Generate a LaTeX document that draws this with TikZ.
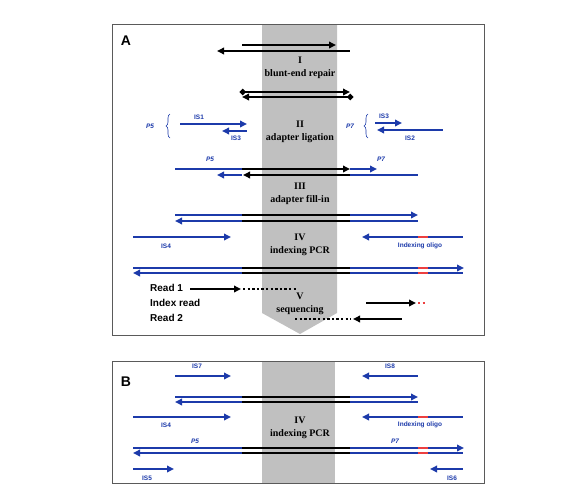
\documentclass[tikz,border=0pt]{standalone}
\usepackage{fontspec}
\setmainfont{Liberation Serif}
\setsansfont{Liberation Sans}
\usetikzlibrary{arrows.meta,decorations.pathreplacing}

\definecolor{dnablue}{RGB}{28,58,170}
\definecolor{bandgray}{RGB}{192,192,192}
\definecolor{oligored}{RGB}{236,64,64}
\definecolor{framegray}{RGB}{90,90,90}

\tikzset{
  bl/.style={draw=dnablue, line width=2.6pt},
  blk/.style={draw=black, line width=2.6pt},
  oligo/.style={draw=oligored, line width=2.8pt},
  dots/.style={draw=black, line width=2.4pt, dash pattern=on 2.4pt off 2.2pt},
  tipR/.style={-{Triangle[length=7pt,width=6.5pt]}},
  tipL/.style={{Triangle[length=7pt,width=6.5pt]}-},
  steplabel/.style={font=\bfseries\fontsize{10}{13}\selectfont, align=center, inner sep=0pt},
  islabel/.style={font=\sffamily\bfseries\fontsize{6.5}{7}\selectfont, text=dnablue, inner sep=0pt},
  plabel/.style={font=\sffamily\bfseries\itshape\fontsize{6.5}{7}\selectfont, text=dnablue, inner sep=0pt},
  readlabel/.style={font=\sffamily\bfseries\fontsize{10}{12}\selectfont, anchor=west, inner sep=0pt},
  panel/.style={font=\sffamily\bfseries\fontsize{14}{14}\selectfont, inner sep=0pt},
}

\begin{document}
\begin{tikzpicture}[x=1pt, y=-1pt]
  \useasboundingbox (0,0) rectangle (576,490);

  % ---------------- panel A
  \fill[bandgray] (262,24) -- (337,24) -- (337,313) -- (300,334) -- (262,313) -- cycle;
  \draw[framegray, line width=1pt] (112,24) rectangle (484,335);
  \node[panel] (panA) at (126,41) {A};

  % I: blunt-end repair
  \draw[blk, tipR] (242,45) -- (336,45);
  \draw[blk, tipL] (217,51) -- (350,51);
  \node[steplabel] (stepI) at (300,68) {I\\blunt-end repair};
  \draw[blk, {Circle[length=5.5pt]}-{Triangle[length=7pt,width=6.5pt]}] (240,92) -- (350,92);
  \draw[blk, {Triangle[length=7pt,width=6.5pt]}-{Circle[length=5.5pt]}] (242,97) -- (353,97);

  % II: adapter ligation
  \node[steplabel] (stepII) at (300,132) {II\\adapter ligation};
  \node[plabel] (pfiveA) at (150,126) {P5};
  \draw[dnablue, line width=0.6pt, decorate, decoration={brace, amplitude=4pt}] (170,138) -- (170,114);
  \draw[bl, tipR] (180,124) -- (247,124);
  \node[islabel] (isone) at (199,117) {IS1};
  \draw[bl, tipL] (222,131) -- (247,131);
  \node[islabel] (isthreeL) at (236,138) {IS3};
  \node[plabel] (psevenA) at (350,126) {P7};
  \draw[dnablue, line width=0.6pt, decorate, decoration={brace, amplitude=4pt}] (368,138) -- (368,114);
  \draw[bl, tipR] (375,123) -- (402,123);
  \node[islabel] (isthreeR) at (384,116) {IS3};
  \draw[bl, tipL] (377,130) -- (443,130);
  \node[islabel] (istwo) at (410,138) {IS2};

  % III: adapter fill-in
  \node[plabel] (pfiveB) at (210,159) {P5};
  \node[plabel] (psevenB) at (381,159) {P7};
  \draw[bl] (175,169) -- (242,169);
  \draw[blk, tipR] (242,169) -- (350,169);
  \draw[bl, tipR] (350,169) -- (377,169);
  \draw[bl, tipL] (217,175) -- (242,175);
  \draw[blk, tipL] (243,175) -- (350,175);
  \draw[bl] (350,175) -- (418,175);
  \node[steplabel] (stepIII) at (300,194) {III\\adapter fill-in};
  \draw[bl, tipR] (175,215) -- (418,215);
  \draw[blk] (242,215) -- (350,215);
  \draw[bl, tipL] (175,221) -- (418,221);
  \draw[blk] (242,221) -- (350,221);

  % IV: indexing PCR
  \draw[bl, tipR] (133,237) -- (231,237);
  \node[islabel] (isfourA) at (166,246) {IS4};
  \draw[bl, tipL] (362,237) -- (463,237);
  \draw[oligo] (418,237) -- (428,237);
  \node[islabel] (oligoA) at (420,246) {Indexing oligo};
  \node[steplabel] (stepIV) at (300,245) {IV\\indexing PCR};
  \draw[bl, tipR] (133,268) -- (464,268);
  \draw[blk] (242,268) -- (350,268);
  \draw[oligo] (418,268) -- (428,268);
  \draw[bl, tipL] (133,273) -- (463,273);
  \draw[blk] (242,273) -- (350,273);
  \draw[oligo] (418,273) -- (428,273);

  % V: sequencing
  \node[readlabel] (readone) at (150,288) {Read 1};
  \node[readlabel] (indexread) at (150,303) {Index read};
  \node[readlabel] (readtwo) at (150,318) {Read 2};
  \node[steplabel] (stepV) at (300,304) {V\\sequencing};
  \draw[blk, tipR] (190,289) -- (241,289);
  \draw[dots] (243,289) -- (297,289);
  \draw[blk, tipR] (366,303) -- (416,303);
  \draw[dots, draw=oligored] (418,303) -- (427,303);
  \draw[blk, tipL] (353,319) -- (402,319);
  \draw[dots] (295,319) -- (351,319);

  % ---------------- panel B
  \fill[bandgray] (262,361) rectangle (335,483);
  \draw[framegray, line width=1pt] (112,361) rectangle (484,483);
  \node[panel] (panB) at (126,382) {B};

  \draw[bl, tipR] (175,376) -- (231,376);
  \node[islabel] (isseven) at (197,366) {IS7};
  \draw[bl, tipL] (362,376) -- (418,376);
  \node[islabel] (iseight) at (390,366) {IS8};
  \draw[bl, tipR] (175,397) -- (418,397);
  \draw[blk] (242,397) -- (350,397);
  \draw[bl, tipL] (175,402) -- (418,402);
  \draw[blk] (242,402) -- (350,402);

  \draw[bl, tipR] (133,417) -- (231,417);
  \node[islabel] (isfourB) at (166,425) {IS4};
  \draw[bl, tipL] (362,417) -- (463,417);
  \draw[oligo] (418,417) -- (428,417);
  \node[islabel] (oligoB) at (420,425) {Indexing oligo};
  \node[steplabel] (stepIVb) at (300,428) {IV\\indexing PCR};

  \node[plabel] (pfiveC) at (195,441) {P5};
  \node[plabel] (psevenC) at (395,441) {P7};
  \draw[bl, tipR] (133,448) -- (464,448);
  \draw[blk] (242,448) -- (350,448);
  \draw[oligo] (418,448) -- (428,448);
  \draw[bl, tipL] (133,453) -- (463,453);
  \draw[blk] (242,453) -- (350,453);
  \draw[oligo] (418,453) -- (428,453);

  \draw[bl, tipR] (133,469) -- (174,469);
  \node[islabel] (isfive) at (147,478) {IS5};
  \draw[bl, tipL] (430,469) -- (463,469);
  \node[islabel] (issix) at (452,478) {IS6};
\end{tikzpicture}
\end{document}
